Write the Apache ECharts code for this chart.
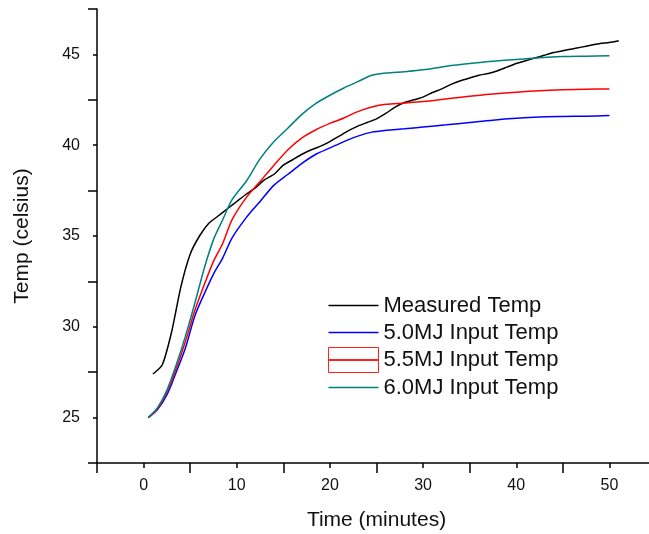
<!DOCTYPE html>
<html>
<head>
<meta charset="utf-8">
<script src="https://cdn.jsdelivr.net/npm/echarts@6/dist/echarts.min.js"></script>
<style>html,body{margin:0;padding:0;background:#fff;}#c{width:649px;height:534px;}</style>
</head>
<body>
<div id="c"></div>
<script>
// ---- data ----
var seriesNames = ['Measured Temp', '5.0MJ Input Temp', '5.5MJ Input Temp', '6.0MJ Input Temp'];
var measuredTime = [1,2,3,4,5,6,7,8,9,10,11,12,13,14,15,16,17,18,19,20,21,22,23,24,25,26,27,28,29,30,31,32,33,34,35,36,37,38,39,40,41,42,43,44,45,46,47,48,49,50,51];
var measuredTemp = [27.4,27.9,29.7,32.2,34.0,35.0,35.7,36.1,36.5,36.9,37.3,37.65,38.1,38.4,38.9,39.2,39.5,39.75,39.95,40.2,40.5,40.8,41.05,41.25,41.45,41.75,42.1,42.35,42.5,42.65,42.9,43.1,43.35,43.55,43.7,43.85,43.95,44.1,44.3,44.5,44.65,44.8,44.95,45.1,45.2,45.3,45.4,45.5,45.6,45.65,45.75];
var simTime = [0.5,1.5,2.5,3.5,4.5,5.5,6.5,7.5,8.5,9.5,11,12.5,14,15.5,17,18.5,20,21.5,23,24.5,26,28,30,32.5,35,37.5,40,42.5,45,47.5,50];
var temp50 = [25.0,25.45,26.25,27.5,28.85,30.6,31.8,32.9,33.8,34.9,36.0,36.9,37.8,38.4,39.0,39.5,39.85,40.2,40.5,40.72,40.82,40.9,41.0,41.12,41.25,41.38,41.48,41.55,41.58,41.6,41.63];
var temp55 = [25.0,25.5,26.4,27.7,29.2,30.9,32.3,33.6,34.6,35.9,37.1,38.0,38.9,39.75,40.4,40.85,41.2,41.5,41.85,42.1,42.25,42.32,42.4,42.55,42.7,42.82,42.92,43.0,43.05,43.08,43.1];
var temp60 = [25.0,25.55,26.5,27.9,29.5,31.3,33.2,34.8,35.9,37.0,38.0,39.25,40.2,40.95,41.7,42.3,42.75,43.15,43.5,43.85,43.97,44.05,44.15,44.35,44.5,44.62,44.72,44.82,44.88,44.9,44.92];
var xTickLabels = [0,10,20,30,40,50];
var yTickLabels = [25,30,35,40,45];

function pairs(xs, ys){ return xs.map(function(x,i){ return [x, ys[i]]; }); }

var FONT = '"Liberation Sans", Arial, sans-serif';
var LINE_ICON = 'path://M0,11.75H50V13.25H0Z';
var chart = echarts.init(document.getElementById('c'), null, {renderer:'canvas'});
var axisLineStyle = {color:'#000', width:1.5};
chart.setOption({
  animation: false,
  backgroundColor: '#fff',
  grid: {left: 97, top: 9, bottom: 71, width: 559, outerBoundsMode: 'none', containLabel: false},
  legend: {
    orient: 'vertical', left: 328, top: 293, padding: 0,
    itemWidth: 50, itemHeight: 25, itemGap: 2,
    textStyle: {fontFamily: FONT, fontSize: 22, lineHeight: 25, color: '#111'},
    data: [
      {name: seriesNames[0], icon: LINE_ICON},
      {name: seriesNames[1], icon: LINE_ICON},
      {name: seriesNames[2], icon: 'path://M0,0H50V25H0Z M0,12H50V13H0Z', itemStyle: {color: 'rgba(0,0,0,0)', borderColor: '#ff2020', borderWidth: 1}},
      {name: seriesNames[3], icon: LINE_ICON}
    ]
  },
  xAxis: [{
    type: 'value', min: -5, max: 55, interval: 5, position: 'bottom',
    axisLine: {onZero: false, lineStyle: axisLineStyle},
    axisTick: {inside: false, length: 5, lineStyle: axisLineStyle},
    splitLine: {show: false},
    axisLabel: {margin: 15, fontFamily: FONT, fontSize: 16, color: '#111',
      formatter: function(v){ return xTickLabels.indexOf(v) >= 0 ? String(v) : ''; }},
    name: 'Time (minutes)', nameLocation: 'middle', nameGap: 47,
    nameTextStyle: {fontFamily: FONT, fontSize: 21, color: '#111'}
  }, {
    type: 'value', min: -5, max: 55, interval: 10, position: 'bottom',
    axisLine: {show: false, onZero: false},
    axisTick: {inside: false, length: 10, lineStyle: axisLineStyle},
    splitLine: {show: false}, axisLabel: {show: false}
  }],
  yAxis: [{
    type: 'value', min: 22.5, max: 47.5, interval: 2.5, position: 'left',
    axisLine: {show: true, onZero: false, lineStyle: axisLineStyle},
    axisTick: {show: true, inside: false, length: 4, lineStyle: axisLineStyle},
    splitLine: {show: false},
    axisLabel: {margin: 17, fontFamily: FONT, fontSize: 16, color: '#111',
      formatter: function(v){ return yTickLabels.indexOf(v) >= 0 ? String(v) : ''; }},
    name: 'Temp (celsius)', nameLocation: 'middle', nameGap: 64,
    nameTextStyle: {fontFamily: FONT, fontSize: 21, color: '#111'}
  }, {
    type: 'value', min: 22.5, max: 47.5, interval: 5, position: 'left',
    axisLine: {show: false, onZero: false},
    axisTick: {show: true, inside: false, length: 9, lineStyle: axisLineStyle},
    splitLine: {show: false}, axisLabel: {show: false}
  }],
  series: [
    {name: seriesNames[0], type: 'line', data: pairs(measuredTime, measuredTemp), showSymbol: false, symbol: 'none', smooth: 0.2,
     lineStyle: {color: '#000', width: 1.5}, itemStyle: {color: '#000'}},
    {name: seriesNames[1], type: 'line', data: pairs(simTime, temp50), showSymbol: false, symbol: 'none', smooth: 0.3,
     lineStyle: {color: '#0000ff', width: 1.5}, itemStyle: {color: '#0000ff'}},
    {name: seriesNames[2], type: 'line', data: pairs(simTime, temp55), showSymbol: false, symbol: 'none', smooth: 0.3,
     lineStyle: {color: '#ff0000', width: 1.5}, itemStyle: {color: '#ff0000'}},
    {name: seriesNames[3], type: 'line', data: pairs(simTime, temp60), showSymbol: false, symbol: 'none', smooth: 0.3,
     lineStyle: {color: '#008080', width: 1.5}, itemStyle: {color: '#008080'}}
  ]
});
</script>
</body>
</html>
